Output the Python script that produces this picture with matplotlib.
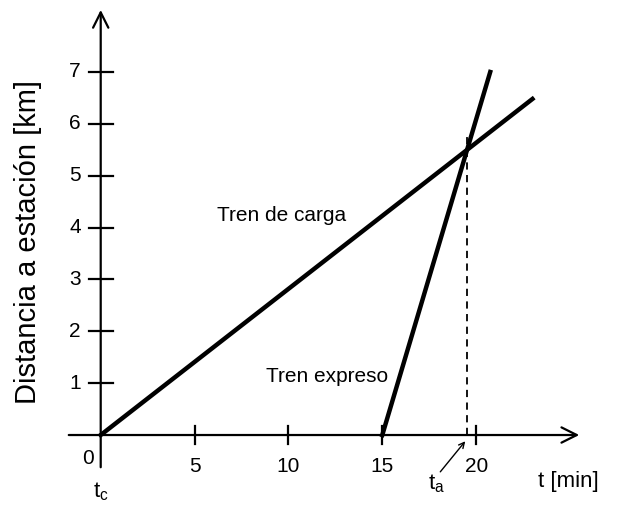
import numpy as np
import matplotlib.pyplot as plt

plt.rcParams['font.family'] = ['Liberation Sans', 'DejaVu Sans']

# datos
carga_t = [0, 23.0]
carga_d = [0, 6.48]
expreso_t = [15, 20.75]
expreso_d = [0, 7.0]
t_a = 19.5
d_a = 5.5
xticks = [5, 10, 15, 20]
yticks = [1, 2, 3, 4, 5, 6, 7]

fig = plt.figure(figsize=(6.22, 5.07), dpi=100)
ax = fig.add_axes([0, 0, 1, 1])
ax.set_xlim(-5.365, 27.77)
ax.set_ylim(-1.388, 8.388)
ax.axis('off')

# ejes con flechas
ax.annotate('', xy=(25.64, 0), xytext=(-1.85, 0),
            arrowprops=dict(arrowstyle='->, head_length=1.1, head_width=0.55', lw=1.6, color='black'))
ax.annotate('', xy=(0, 8.25), xytext=(0, -0.675),
            arrowprops=dict(arrowstyle='->, head_length=1.1, head_width=0.55', lw=1.6, color='black'))

for x in xticks:
    ax.plot([x, x], [-0.17, 0.17], color='black', lw=1.6)
    ax.text(x, -0.6, str(x), ha='center', va='center', fontsize=15)
for y in yticks:
    ax.plot([-0.64, 0.64], [y, y], color='black', lw=1.6)
    ax.text(-1.05, y, str(y), ha='right', va='center', fontsize=15)
ax.text(-0.67, -0.45, '0', ha='center', va='center', fontsize=15)

# trenes
ax.plot(carga_t, carga_d, color='black', lw=3.2)
ax.plot(expreso_t, expreso_d, color='black', lw=3.2)
ax.plot([t_a, t_a], [0, 5.78], color='black', lw=1.3, ls=(0, (4, 3)))

ax.text(9.66, 4.24, 'Tren de carga', ha='center', va='center', fontsize=15)
ax.text(12.07, 1.12, 'Tren expreso', ha='center', va='center', fontsize=15)

ax.text(0, -1.1, r'$\mathregular{t_c}$', ha='center', va='center', fontsize=16)
ax.text(17.87, -0.93, r'$\mathregular{t_a}$', ha='center', va='center', fontsize=16)
ax.annotate('', xy=(19.42, -0.12), xytext=(18.09, -0.71),
            arrowprops=dict(arrowstyle='->', lw=1.0, color='black', shrinkA=0, shrinkB=0))
ax.text(24.9, -0.89, 't [min]', ha='center', va='center', fontsize=16)

ax.text(-3.87, 3.72, 'Distancia a estación [km]', rotation=90, ha='center', va='center', fontsize=21)

fig.savefig('out.png', dpi=100)
